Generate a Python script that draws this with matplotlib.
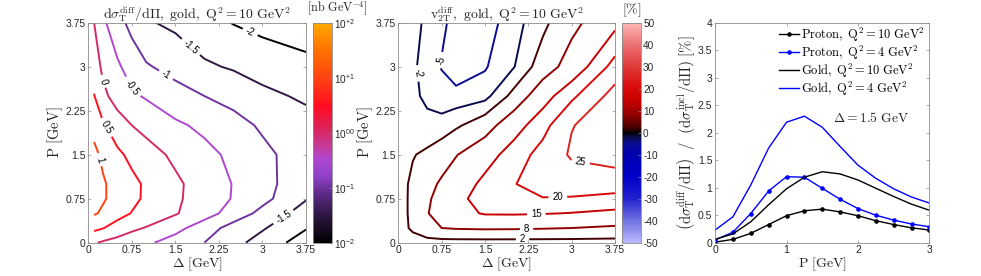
import numpy as np
import matplotlib
matplotlib.use("Agg")
import matplotlib.pyplot as plt
from matplotlib.colors import LinearSegmentedColormap, Normalize
from matplotlib.cm import ScalarMappable

plt.rcParams["mathtext.fontset"] = "cm"
plt.rcParams["font.family"] = ["Liberation Sans", "DejaVu Sans"]

# ---- panel 1: log10(dsigma_T^diff/dPi) [nb GeV^-4], gold, Q2 = 10 GeV2
delta_1 = [0.1, 0.25, 0.5, 0.75, 1.0, 1.5, 2.0, 2.5, 3.0, 3.75]
p_1 = [0.0, 0.25, 0.5, 0.75, 1.0, 1.5, 2.0, 2.5, 3.0, 3.75]
log_xsec = [
    [0.04, -0.06, -0.18, -0.30, -0.42, -0.70, -1.00, -1.35, -1.70, -2.25],
    [0.62, 0.52, 0.30, 0.10, -0.03, -0.35, -0.75, -1.20, -1.45, -1.97],
    [1.05, 0.93, 0.68, 0.48, 0.32, 0.04, -0.30, -0.70, -1.15, -1.72],
    [1.15, 1.05, 0.84, 0.62, 0.42, 0.08, -0.23, -0.53, -0.85, -1.47],
    [1.15, 1.05, 0.84, 0.62, 0.43, 0.09, -0.22, -0.52, -0.83, -1.33],
    [1.10, 0.92, 0.60, 0.38, 0.20, -0.10, -0.37, -0.60, -0.88, -1.25],
    [0.87, 0.57, 0.22, 0.00, -0.15, -0.42, -0.60, -0.82, -1.07, -1.32],
    [0.52, 0.12, -0.20, -0.42, -0.55, -0.80, -1.00, -1.17, -1.38, -1.58],
    [0.27, -0.10, -0.42, -0.72, -0.95, -1.18, -1.43, -1.55, -1.70, -1.85],
    [0.00, -0.40, -0.82, -1.15, -1.45, -1.60, -1.82, -2.02, -2.15, -2.30],
]
levels_1 = [-2, -1.5, -1, -0.5, 0, 0.5, 1]
labels_1 = [(2.78, 3.57), (1.72, 3.28), (1.32, 2.83), (0.72, 2.63), (0.23, 2.74),
            (0.29, 1.95), (0.17, 1.41), (3.36, 0.44)]
cb1_ticks = [-2, -1, 0, 1, 2]
cb1_labels = ["10^{-2}", "10^{-1}", "10^{00}", "10^{+1}", "10^{+2}"]

# ---- panel 2: v2T^diff [%], gold, Q2 = 10 GeV2
delta_2 = [0.0, 0.25, 0.5, 0.75, 1.0, 1.5, 2.0, 2.5, 3.0, 3.75]
p_2 = [0.0, 0.25, 0.5, 0.75, 1.0, 1.5, 2.0, 2.5, 3.0, 3.75]
v2 = [
    [0, 0.0, 0.0, 0.0, 0.0, 0.0, 0.0, 0.0, 0.0, 0.0],
    [0, 2.8, 6.0, 8.0, 8.5, 8.8, 8.7, 8.4, 8.0, 7.0],
    [0, 3.1, 7.7, 10.5, 13.0, 15.5, 15.6, 15.3, 14.8, 13.8],
    [0, 3.1, 7.0, 10.5, 13.5, 17.2, 19.2, 19.8, 19.6, 18.5],
    [0, 3.0, 6.3, 8.8, 11.5, 16.5, 19.8, 22.0, 22.5, 22.5],
    [0, 1.7, 3.0, 5.5, 7.7, 12.5, 17.5, 21.8, 25.6, 27.0],
    [0, -0.6, -1.2, -1.0, 1.2, 5.0, 12.5, 18.3, 24.8, 27.5],
    [0, -1.4, -2.6, -3.5, -4.3, -3.3, 3.5, 12.5, 19.0, 27.0],
    [0, -1.5, -3.2, -5.2, -6.3, -5.3, -2.2, 4.5, 11.0, 22.0],
    [0, -1.2, -2.5, -4.4, -6.0, -6.3, -3.5, 0.8, 6.2, 13.5],
]
levels_2 = [-5, -2, 2, 8, 15, 20, 25]
labels_2 = [(0.37, 2.89), (0.75, 3.11), (3.14, 1.30), (2.76, 0.76), (2.39, 0.42),
            (2.22, 0.20), (2.15, 0.06)]
cb2_ticks = list(range(-50, 51, 10))

# ---- panel 3: ratio diff/incl [%] at Delta = 1.5 GeV
p_3 = [0, 0.25, 0.5, 0.75, 1.0, 1.25, 1.5, 1.75, 2.0, 2.25, 2.5, 2.75, 3.0]
proton_q10 = [0.01, 0.06, 0.17, 0.33, 0.49, 0.58, 0.61, 0.56, 0.49, 0.40, 0.33, 0.27, 0.23]
proton_q4 = [0.05, 0.19, 0.53, 0.94, 1.20, 1.19, 0.99, 0.79, 0.62, 0.50, 0.41, 0.34, 0.29]
gold_q10 = [0.06, 0.16, 0.38, 0.69, 0.98, 1.19, 1.29, 1.25, 1.14, 0.99, 0.84, 0.70, 0.59]
gold_q4 = [0.23, 0.47, 1.05, 1.72, 2.19, 2.30, 2.10, 1.75, 1.41, 1.17, 0.98, 0.83, 0.72]

cmap_1 = LinearSegmentedColormap.from_list("xsec", [
    (0.0, "#000000"), (0.12, "#2e1640"), (0.22, "#5a2a86"), (0.30, "#9040c8"),
    (0.38, "#b048d0"), (0.45, "#c83890"), (0.50, "#d42868"), (0.62, "#ff0c20"),
    (0.75, "#ff4212"), (0.88, "#ff7400"), (1.0, "#ffaa00")])
cmap_2 = LinearSegmentedColormap.from_list("v2", [
    (0.0, "#b8b8ff"), (0.1, "#7070e0"), (0.2, "#2020d0"), (0.3, "#0000c8"),
    (0.4, "#0000b0"), (0.45, "#0c0c96"), (0.48, "#0a0a48"), (0.5, "#000000"),
    (0.52, "#420000"), (0.58, "#900000"), (0.65, "#c80000"), (0.7, "#d80808"),
    (0.8, "#e03838"), (0.9, "#ec7070"), (1.0, "#ffb8b8")])

AX_COL = "#8a8a8a"
TXT_COL = "#262626"
TICK_FS = 7.5
LABEL_FS = 10
TITLE_FS = 10
ticks_dp = [0, 0.75, 1.5, 2.25, 3, 3.75]
ticklabels_dp = ["0", "0.75", "1.5", "2.25", "3", "3.75"]


def style_axes(ax):
    for s in ax.spines.values():
        s.set_color(AX_COL)
        s.set_linewidth(0.6)
    ax.tick_params(direction="in", length=2.5, width=0.5, color=AX_COL,
                   labelcolor=TXT_COL, labelsize=TICK_FS, top=True, right=True, pad=2)


def contour_panel(ax, cax, xs, ys, zs, levels, cmap, norm, manual, title):
    cs = ax.contour(xs, ys, np.array(zs), levels=levels, cmap=cmap, norm=norm,
                    linewidths=1.4)
    ax.clabel(cs, manual=manual, inline=True, inline_spacing=4, fontsize=7,
              colors="k", fmt=lambda v: f"{v:g}")
    ax.set_xlim(0, 3.75)
    ax.set_ylim(0, 3.75)
    ax.set_xticks(ticks_dp, ticklabels_dp)
    ax.set_yticks(ticks_dp, ticklabels_dp)
    style_axes(ax)
    ax.set_xlabel(r"$\Delta\ \mathrm{[GeV]}$", fontsize=LABEL_FS, color=TXT_COL, labelpad=0)
    ax.set_ylabel(r"$\mathrm{P\ [GeV]}$", fontsize=10.5, color=TXT_COL, labelpad=0)
    ax.set_title(title, fontsize=TITLE_FS, color=TXT_COL, pad=3)
    cb = plt.colorbar(ScalarMappable(norm=norm, cmap=cmap), cax=cax)
    cb.outline.set_edgecolor(AX_COL)
    cb.outline.set_linewidth(0.6)
    cax.tick_params(direction="in", length=2.5, width=0.5, color=AX_COL,
                    labelcolor=TXT_COL, labelsize=7.2, pad=1.5)
    return cb


fig = plt.figure(figsize=(9.81, 2.76), dpi=100)
ax1 = fig.add_axes([0.0900, 0.1207, 0.2219, 0.7971])
cax1 = fig.add_axes([0.3194, 0.1207, 0.0191, 0.7971])
ax2 = fig.add_axes([0.4060, 0.1207, 0.2209, 0.7971])
cax2 = fig.add_axes([0.6337, 0.1207, 0.0197, 0.7971])
ax3 = fig.add_axes([0.7289, 0.1207, 0.2185, 0.7971])

cb1 = contour_panel(ax1, cax1, delta_1, p_1, log_xsec, levels_1, cmap_1,
                    Normalize(-2, 2), labels_1,
                    r"$\mathrm{d}\sigma_{\mathrm{T}}^{\mathrm{diff}}/\mathrm{d}\Pi,\ \mathrm{gold},\ \mathrm{Q}^2 = 10\ \mathrm{GeV}^2$")
cb1.set_ticks(cb1_ticks)
cb1.set_ticklabels([rf"$\mathregular{{{t}}}$" for t in cb1_labels])
fig.text(0.3130, 0.968, r"$[\mathrm{nb\ GeV}^{-4}]$", fontsize=8.8, color=TXT_COL,
         ha="left", va="center")

cb2 = contour_panel(ax2, cax2, delta_2, p_2, v2, levels_2, cmap_2,
                    Normalize(-50, 50), labels_2,
                    r"$\mathrm{v}_{2\mathrm{T}}^{\mathrm{diff}},\ \mathrm{gold},\ \mathrm{Q}^2 = 10\ \mathrm{GeV}^2$")
cb2.set_ticks(cb2_ticks)
cb2.set_ticklabels([str(t) for t in cb2_ticks])
fig.text(0.6435, 0.962, r"$[\%]$", fontsize=10, color=TXT_COL, ha="center", va="center")

# ---- panel 3
ax3.plot(p_3, proton_q10, color="k", lw=1.0, marker="o", ms=2.3,
         label=r"$\mathrm{Proton},\ \mathrm{Q}^2 = 10\ \mathrm{GeV}^2$")
ax3.plot(p_3, proton_q4, color="#0000ff", lw=1.0, marker="o", ms=2.3,
         label=r"$\mathrm{Proton},\ \mathrm{Q}^2 = 4\ \mathrm{GeV}^2$")
ax3.plot(p_3, gold_q10, color="k", lw=1.0,
         label=r"$\mathrm{Gold},\ \mathrm{Q}^2 = 10\ \mathrm{GeV}^2$")
ax3.plot(p_3, gold_q4, color="#0000ff", lw=1.0,
         label=r"$\mathrm{Gold},\ \mathrm{Q}^2 = 4\ \mathrm{GeV}^2$")
ax3.set_xlim(0, 3)
ax3.set_ylim(0, 4)
ax3.set_xticks([0, 1, 2, 3])
ax3.set_yticks(np.arange(0, 4.01, 0.5), ["0", "0.5", "1", "1.5", "2", "2.5", "3", "3.5", "4"])
style_axes(ax3)
ax3.legend(loc="upper right", bbox_to_anchor=(1.0, 1.01), frameon=False, fontsize=9,
           handlelength=1.55, handletextpad=0.15, labelspacing=0.0, borderaxespad=0.2,
           borderpad=0.2)
ax3.text(1.65, 2.27, r"$\Delta = 1.5\ \mathrm{GeV}$", fontsize=9.7, color=TXT_COL,
         ha="left", va="center")
ax3.set_xlabel(r"$\mathrm{P\ [GeV]}$", fontsize=LABEL_FS, color=TXT_COL, labelpad=0)
ax3.set_ylabel(r"$\left(\mathrm{d}\sigma_{\mathrm{T}}^{\mathrm{diff}}/\mathrm{d}\Pi\right)"
               r"\ \ /\ \ \left(\mathrm{d}\sigma_{\mathrm{T}}^{\mathrm{incl}}/\mathrm{d}\Pi\right)\ \mathrm{[\%]}$",
               fontsize=10.5, color=TXT_COL, labelpad=0)

fig.savefig("out.png", dpi=100)
